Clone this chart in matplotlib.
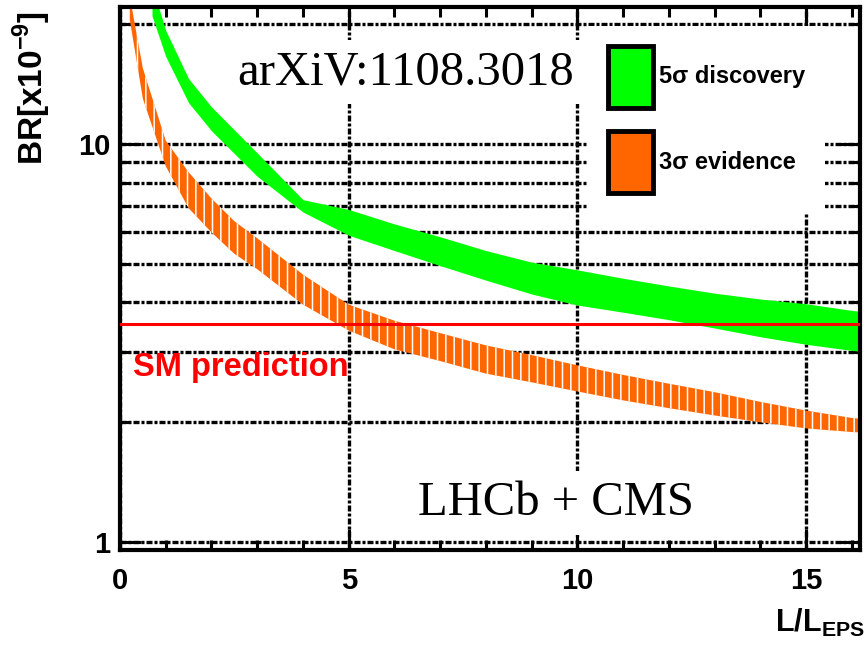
import numpy as np
import matplotlib
matplotlib.use("Agg")
import matplotlib.pyplot as plt
from matplotlib.patches import Patch
from matplotlib.ticker import LogLocator, FuncFormatter, MultipleLocator, NullFormatter

plt.rcParams['font.family'] = ['Liberation Sans', 'DejaVu Sans']
plt.rcParams['mathtext.fontset'] = 'custom'
plt.rcParams['mathtext.rm'] = 'Liberation Sans:bold'
plt.rcParams['mathtext.bf'] = 'Liberation Sans:bold'
plt.rcParams['hatch.linewidth'] = 1.1

# 5 sigma discovery band (BR in units of 1e-9 vs L/L_EPS)
green_x = [0.7, 1.0, 1.5, 2.0, 3.0, 4.0, 5.0, 6.0, 7.0, 8.0, 9.0, 10.0,
           11.0, 12.0, 13.0, 14.0, 15.0, 16.0, 16.4]
green_lo = [21.0, 16.6, 12.7, 10.8, 8.3, 6.75, 5.9, 5.4, 4.95, 4.55, 4.2, 3.94,
            3.78, 3.62, 3.45, 3.28, 3.14, 3.03, 3.0]
green_hi = [25.0, 19.3, 14.6, 12.4, 9.5, 7.25, 6.85, 6.3, 5.85, 5.4, 5.05, 4.83,
            4.6, 4.4, 4.22, 4.08, 3.97, 3.82, 3.78]

# 3 sigma evidence band
orange_x = [0.2, 0.5, 1.0, 1.5, 2.0, 2.5, 3.0, 4.0, 5.0, 6.0, 7.0, 8.0, 9.0,
            10.0, 11.0, 12.0, 13.0, 14.0, 15.0, 16.0, 16.4]
orange_lo = [21.0, 13.0, 8.8, 6.9, 6.0, 5.3, 4.85, 3.95, 3.4, 3.05, 2.85, 2.65,
             2.52, 2.39, 2.27, 2.17, 2.08, 2.0, 1.93, 1.89, 1.88]
orange_hi = [24.0, 15.5, 10.2, 8.5, 7.3, 6.4, 5.8, 4.7, 3.95, 3.6, 3.35, 3.12,
             2.95, 2.78, 2.63, 2.5, 2.38, 2.25, 2.14, 2.05, 2.03]

sm_prediction = 3.54

green = '#00ff00'
orange = '#ff6600'

fig = plt.figure(figsize=(8.67, 6.45), dpi=100)
ax = fig.add_axes([120 / 867, 1 - 550 / 645, 740 / 867, 543 / 645])

ax.fill_between(green_x, green_lo, green_hi, color=green, lw=0, zorder=2)
ax.fill_between(orange_x, orange_lo, orange_hi, facecolor=orange,
                edgecolor='white', hatch='||', lw=0, zorder=2)
ax.axhline(sm_prediction, color='#ff0000', lw=2.2, zorder=3)

ax.set_yscale('log')
ax.set_xlim(0.0, 16.18)
ax.set_ylim(0.955, 22.1)

ax.xaxis.set_major_locator(MultipleLocator(5))
ax.xaxis.set_minor_locator(MultipleLocator(1))
ax.yaxis.set_major_locator(LogLocator(base=10))
ax.yaxis.set_minor_locator(LogLocator(base=10, subs=np.arange(2, 10)))
ax.yaxis.set_major_formatter(FuncFormatter(lambda v, p: '%g' % v))
ax.yaxis.set_minor_formatter(NullFormatter())

ax.tick_params(which='both', direction='in', top=True, right=True, width=2.2,
               labelsize=21, colors='black')
ax.tick_params(which='major', length=15)
ax.tick_params(which='minor', length=7)
ax.tick_params(axis='x', which='major', pad=12)
ax.tick_params(axis='y', which='major', pad=7)
for lab in ax.get_xticklabels() + ax.get_yticklabels():
    lab.set_fontweight('bold')
for sp in ax.spines.values():
    sp.set_linewidth(3)

gstyle = dict(color='black', lw=2.4, linestyle=(0, (1.8, 0.6, 0.9, 0.6)))
ax.set_axisbelow(True)
ax.yaxis.grid(True, which='both', **gstyle)
ax.xaxis.grid(True, which='major', **gstyle)

ax.set_ylabel(r'BR[x10$^{\mathbf{-9}}$]', fontsize=24, fontweight='bold', loc='top')
ax.yaxis.set_label_coords(-0.09, 0.993)
ax.set_xlabel(r'L/L$_{\mathbf{EPS}}$', fontsize=22, fontweight='bold', loc='right')
ax.xaxis.set_label_coords(1.007, -0.105)

ax.text(0.018, 0.337, 'SM prediction', color='#ff0000', fontsize=23.5,
        fontweight='bold', ha='left', va='center', transform=ax.transAxes, zorder=4)

box = dict(boxstyle='square,pad=0.2', facecolor='white', edgecolor='none')
ax.text(0.386, 0.858, 'arXiV:1108.3018', family='Liberation Serif', fontsize=35,
        ha='center', va='baseline', transform=ax.transAxes, bbox=box, zorder=4)
ax.text(0.589, 0.0645, 'LHCb + CMS', family='Liberation Serif', fontsize=35,
        ha='center', va='baseline', transform=ax.transAxes, bbox=box, zorder=4)

handles = [Patch(facecolor=green, edgecolor='black', lw=3.5, joinstyle='round'),
           Patch(facecolor=orange, edgecolor='black', lw=3.5, joinstyle='round')]
leg = ax.legend(handles, ['5σ discovery', '3σ evidence'],
                loc='upper left', bbox_to_anchor=(588 / 867, 1 - 26 / 645),
                bbox_transform=fig.transFigure, borderaxespad=0,
                prop=dict(family='Liberation Sans', weight='bold', size=17),
                handlelength=1.9, handleheight=3.65, labelspacing=1.0,
                handletextpad=0.25, borderpad=0.85, frameon=True, fancybox=False,
                framealpha=1, facecolor='white', edgecolor='none')
leg.set_zorder(5)

fig.savefig('out.png', dpi=100)
